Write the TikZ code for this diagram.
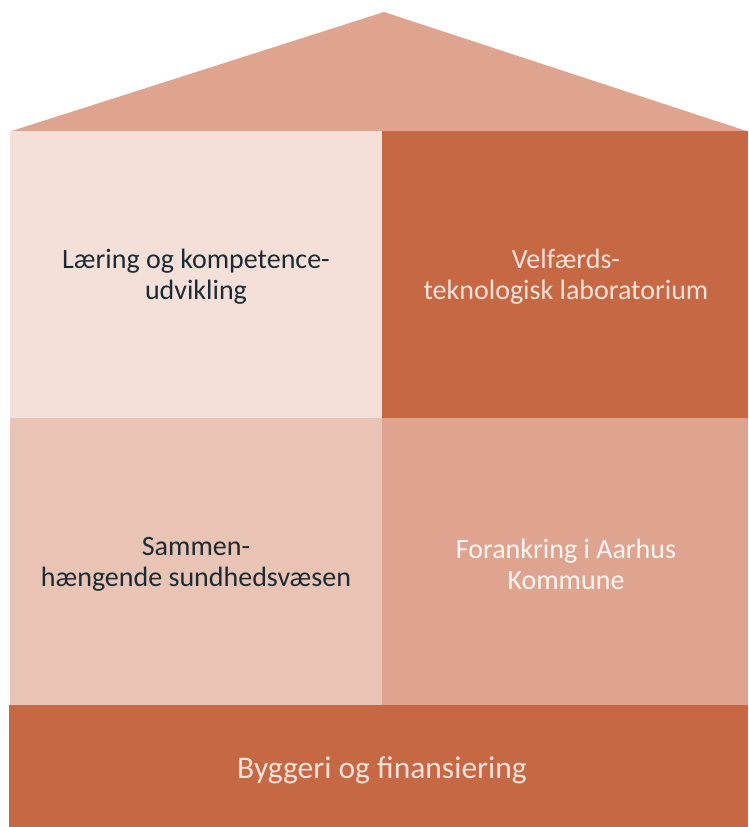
\documentclass[tikz,border=0pt]{standalone}
\usepackage{fontspec}
\setmainfont{Carlito}
\definecolor{roofc}{HTML}{DFA48F}
\definecolor{lightc}{HTML}{F4E0D8}
\definecolor{darkc}{HTML}{C66844}
\definecolor{midc}{HTML}{E9C3B3}
\definecolor{textdark}{HTML}{1B2A33}
\definecolor{textlight}{HTML}{F6E2DA}
\definecolor{textwhite}{HTML}{FDF5F2}
\begin{document}
\begin{tikzpicture}[x=1pt,y=-1pt,
  lbl/.style={align=center,font=\fontsize{28}{31}\selectfont,inner sep=0pt},
  blbl/.style={align=center,font=\fontsize{31.5}{36}\selectfont,inner sep=0pt}]
\useasboundingbox (0,0) rectangle (748,827);
\fill[roofc] (10,131.5) -- (384,12) -- (748,131.5) -- cycle;
\fill[lightc] (10,131) rectangle (382,418);
\fill[darkc] (382,131) rectangle (748,418);
\fill[midc] (10,418) rectangle (382,705);
\fill[roofc] (382,418) rectangle (748,705);
\fill[darkc] (9,705) rectangle (748,827);
\node[lbl,text=textdark] (tl) at (196,277) {Læring og kompetence-\\udvikling};
\node[lbl,text=textlight] (tr) at (566,277) {Velfærds-\\teknologisk laboratorium};
\node[lbl,text=textdark] (bl) at (196,564) {Sammen-\\hængende sundhedsvæsen};
\node[lbl,text=textwhite] (br) at (566,564) {Forankring i Aarhus\\Kommune};
\node[blbl,text=textlight] (bb) at (382,770) {Byggeri og finansiering};
\end{tikzpicture}
\end{document}
